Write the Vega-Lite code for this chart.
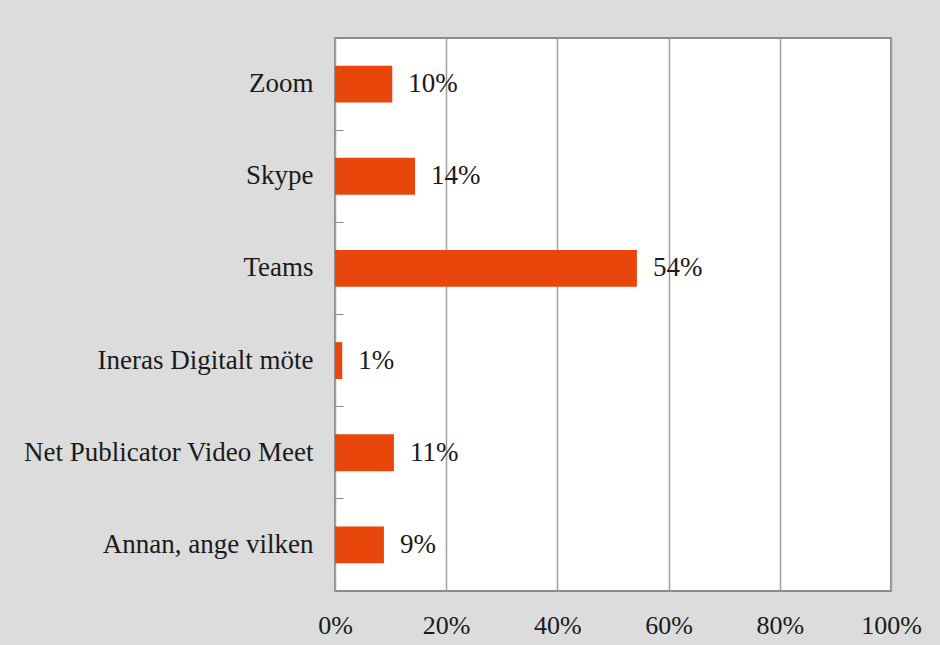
{
  "$schema": "https://vega.github.io/schema/vega-lite/v6.json",
  "width": 556,
  "height": 553,
  "autosize": {"type": "none"},
  "padding": {"left": 335, "top": 38, "right": 49, "bottom": 54},
  "background": "#dcdcdc",
  "config": {
    "font": "Liberation Serif",
    "view": {"fill": "white", "stroke": "#8a8a8a", "strokeWidth": 2}
  },
  "data": {
    "values": [
      {"tool": "Zoom", "share": 0.103},
      {"tool": "Skype", "share": 0.144},
      {"tool": "Teams", "share": 0.543},
      {"tool": "Ineras Digitalt möte", "share": 0.013},
      {"tool": "Net Publicator Video Meet", "share": 0.106},
      {"tool": "Annan, ange vilken", "share": 0.088}
    ]
  },
  "encoding": {
    "y": {
      "field": "tool",
      "type": "nominal",
      "sort": null,
      "title": null,
      "scale": {"paddingInner": 0.6, "paddingOuter": 0.3},
      "axis": {
        "domain": false,
        "ticks": true,
        "bandPosition": -0.75,
        "tickSize": -8,
        "tickColor": "#8a8a8a",
        "tickWidth": 1,
        "labelFontSize": 27,
        "labelColor": "#1a1a1a",
        "labelPadding": 30,
        "labelLimit": 400,
        "grid": false
      }
    },
    "x": {
      "field": "share",
      "type": "quantitative",
      "title": null,
      "scale": {"domain": [0, 1], "nice": false},
      "axis": {
        "values": [0, 0.2, 0.4, 0.6, 0.8, 1],
        "format": ".0%",
        "grid": true,
        "gridColor": "#a0a0a0",
        "gridWidth": 1.5,
        "ticks": false,
        "domain": false,
        "labelFontSize": 26,
        "labelColor": "#1a1a1a",
        "labelPadding": 21,
        "labelFlush": false,
        "labelOverlap": false
      }
    }
  },
  "layer": [
    {"mark": {"type": "bar", "color": "#e8460a"}},
    {
      "mark": {"type": "text", "align": "left", "baseline": "middle", "dx": 16, "fontSize": 27, "color": "#1a1a1a"},
      "encoding": {"text": {"field": "share", "type": "quantitative", "format": ".0%"}}
    }
  ]
}
